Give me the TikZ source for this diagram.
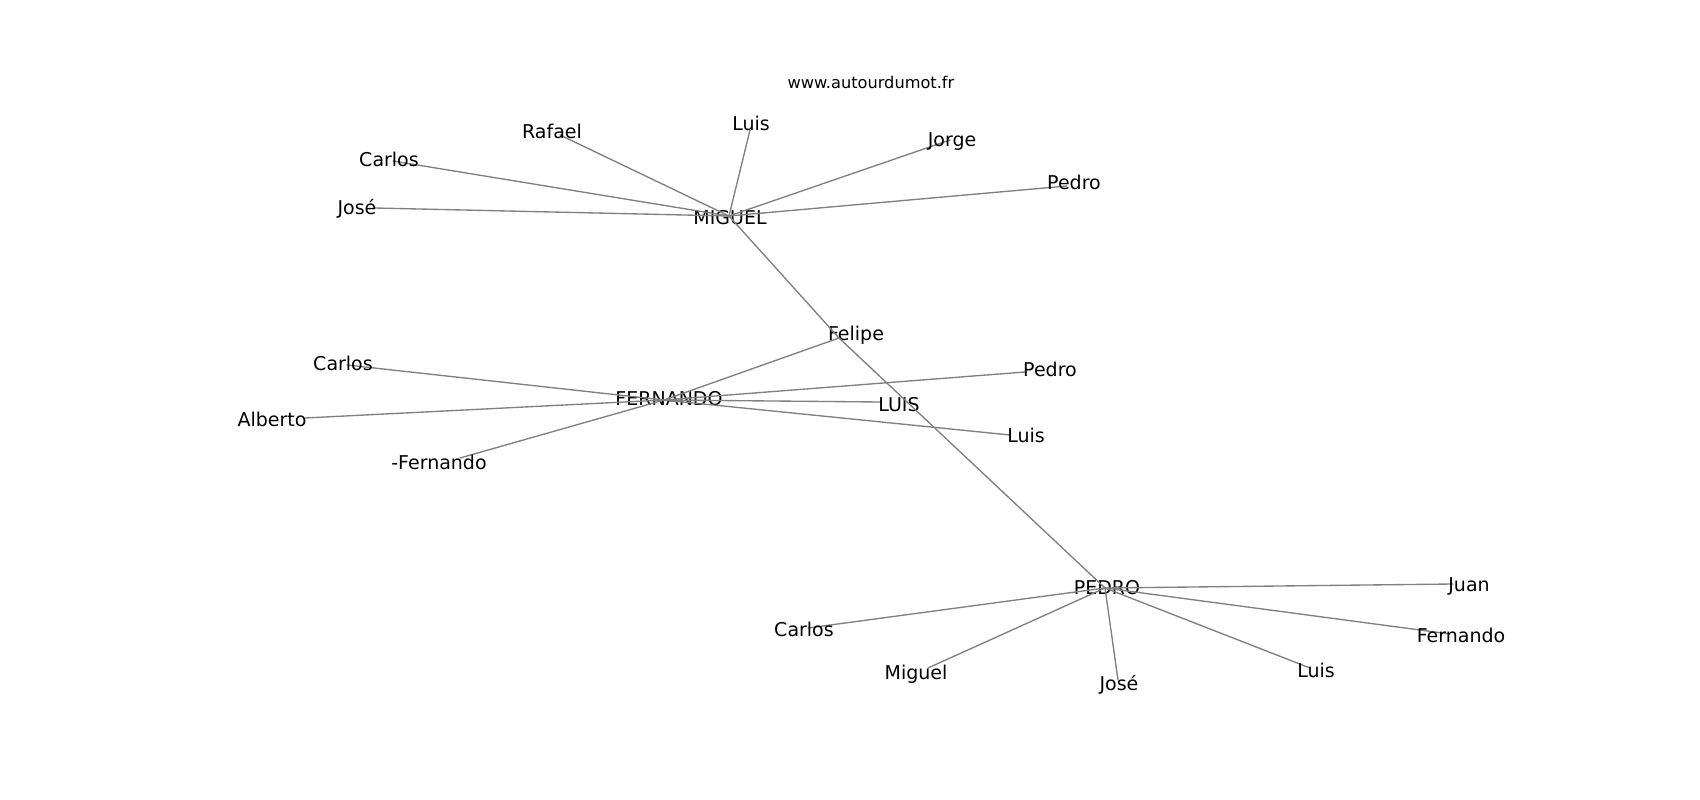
\documentclass[tikz,border=0pt]{standalone}
\usepackage{fontspec}
\setmainfont{DejaVu Sans}
\begin{document}
\begin{tikzpicture}[x=1pt, y=-1pt, line join=round, line cap=round,
	edge/.style={draw=black!50, line width=1.35pt},
	lbl/.style={font=\fontsize{19}{22}\selectfont, inner sep=0pt, text height=13.8pt, text depth=0pt, yshift=-1pt}]
	\useasboundingbox (0,0) rectangle (1700,800);
	% hubs: point / label
	\foreach \n/\px/\py/\lx/\ly/\t in {M/729/216/730/217/MIGUEL, F/664/400/669/398/FERNANDO,
			P/1105/588/1107/587/PEDRO, fel/839/338/856/333/Felipe} {
		\coordinate (\n) at (\px,\py);
		\node[lbl] (\n-t) at (\lx,\ly) {\t};}
	% leaves of MIGUEL
	\foreach \n/\px/\py/\lx/\ly/\t in {m1/560/135/552/131/Rafael, m2/393/161/389/159/Carlos,
			m3/375/208/357/207/José, m4/750/130/751/123/Luis, m5/950/140/952/139/Jorge,
			m6/1067/186/1074/182/Pedro} {
		\coordinate (\n) at (\px,\py);
		\draw[edge] (M)--(\n);
		\node[lbl] (\n-t) at (\lx,\ly) {\t};}
	% leaves of FERNANDO
	\foreach \n/\px/\py/\lx/\ly/\t in {f1/347/365/343/363/Carlos, f2/305/418/272/419/Alberto,
			f3/460/458/439/462/-Fernando, f4/881/402/899/404/LUIS, f5/1025/372/1050/369/Pedro,
			f6/1010/435/1026/435/Luis} {
		\coordinate (\n) at (\px,\py);
		\draw[edge] (F)--(\n);
		\node[lbl] (\n-t) at (\lx,\ly) {\t};}
	% leaves of PEDRO
	\foreach \n/\px/\py/\lx/\ly/\t in {p1/808/628/804/629/Carlos, p2/928/668/916/672/Miguel,
			p3/1118/680/1119/683/José, p4/1310/668/1316/670/Luis, p5/1450/634/1461/635/Fernando,
			p6/1453/584/1469/584/Juan} {
		\coordinate (\n) at (\px,\py);
		\draw[edge] (P)--(\n);
		\node[lbl] (\n-t) at (\lx,\ly) {\t};}
	\draw[edge] (M)--(fel) (F)--(fel) (fel)--(P);
	\node[font=\fontsize{16.2}{19}\selectfont, inner sep=0pt, text height=11.8pt, text depth=0pt] (site) at (871,83) {www.autourdumot.fr};
\end{tikzpicture}
\end{document}
